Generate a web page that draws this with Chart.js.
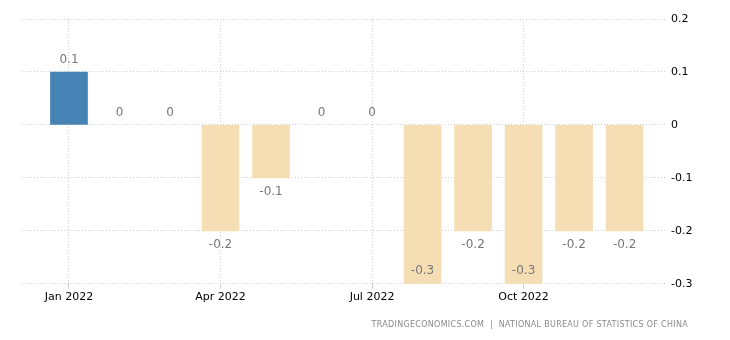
<!DOCTYPE html>
<html lang="en">
<head>
    <meta charset="UTF-8">
    <title>China inflation rate mom</title>
    <script src="https://cdn.jsdelivr.net/npm/chart.js@4.4.0/dist/chart.umd.min.js"></script>
    <style>
        body { margin: 0; background: #fff; }
        #wrap { position: relative; width: 730px; height: 340px; }
        #src {
            position: absolute; right: 42px; top: 320px; line-height: 10px;
            font: 8px "DejaVu Sans", sans-serif; letter-spacing: 0.3px; color: #8a8a8a;
            white-space: pre;
        }
    </style>
</head>
<body>
    <div id="wrap">
        <canvas id="myChart" width="730" height="340"></canvas>
        <div id="src">TRADINGECONOMICS.COM  |  NATIONAL BUREAU OF STATISTICS OF CHINA</div>
    </div>
    <script>
        var months = ['Jan 2022', 'Feb 2022', 'Mar 2022', 'Apr 2022', 'May 2022', 'Jun 2022',
            'Jul 2022', 'Aug 2022', 'Sep 2022', 'Oct 2022', 'Nov 2022', 'Dec 2022'];
        var values = [0.1, 0, 0, -0.2, -0.1, 0, 0, -0.3, -0.2, -0.3, -0.2, -0.2];
        var tickMonths = [0, 3, 6, 9];
        var yTicks = [0.2, 0.1, 0, -0.1, -0.2, -0.3];

        var points = values.map(function (v, i) { return { x: i, y: v }; });
        var colors = values.map(function (v) {
            if (v > 0) return '#4682b4';
            if (v < 0) return '#f5deb3';
            return 'rgba(0,0,0,0)';
        });

        function fmt(v) {
            var r = Math.round(v * 10) / 10;
            return r === 0 ? '0' : String(r);
        }

        // value labels above / below bars
        var labelPlugin = {
            id: 'barLabels',
            afterDatasetsDraw: function (chart) {
                var ctx = chart.ctx;
                var meta = chart.getDatasetMeta(0);
                var yScale = chart.scales.y;
                ctx.save();
                ctx.font = '12px "DejaVu Sans", sans-serif';
                ctx.fillStyle = '#777';
                ctx.textAlign = 'center';
                ctx.textBaseline = 'middle';
                meta.data.forEach(function (bar, i) {
                    var v = values[i];
                    var y;
                    if (v >= 0) {
                        y = bar.y - 12;
                    } else if (bar.y + 14 > yScale.bottom) {
                        y = bar.y - 13;
                    } else {
                        y = bar.y + 14;
                    }
                    ctx.fillText(fmt(v), bar.x, y);
                });
                ctx.restore();
            }
        };

        var ctx = document.getElementById('myChart');
        var myChart = new Chart(ctx, {
            type: 'bar',
            data: {
                datasets: [{
                    data: points,
                    backgroundColor: colors,
                    barThickness: 37,
                    borderWidth: 0
                }]
            },
            plugins: [labelPlugin],
            options: {
                responsive: false,
                animation: { duration: 0 },
                layout: { padding: { top: 19, left: 22, right: 0, bottom: 34 } },
                plugins: {
                    legend: { display: false },
                    tooltip: { enabled: false }
                },
                scales: {
                    x: {
                        type: 'linear',
                        offset: false,
                        min: -0.93,
                        max: 11.8,
                        afterBuildTicks: function (scale) {
                            scale.ticks = tickMonths.map(function (v) { return { value: v }; });
                        },
                        ticks: {
                            color: '#000',
                            font: { family: 'DejaVu Sans', size: 11 },
                            maxRotation: 0,
                            autoSkip: false,
                            padding: 2,
                            callback: function (v) { return months[v]; }
                        },
                        grid: { color: '#d0d0d0', tickLength: 5, offset: false },
                        border: { display: false, dash: [1, 2] }
                    },
                    y: {
                        position: 'right',
                        min: -0.3,
                        max: 0.2,
                        afterBuildTicks: function (scale) {
                            scale.ticks = yTicks.map(function (v) { return { value: v }; });
                        },
                        afterFit: function (scale) { scale.width = 65; },
                        ticks: {
                            color: '#000',
                            font: { family: 'DejaVu Sans', size: 11 },
                            padding: 6,
                            callback: function (v) { return fmt(v); }
                        },
                        grid: { color: '#d0d0d0', drawTicks: false },
                        border: { display: false, dash: [1, 2] }
                    }
                }
            }
        });
    </script>
</body>
</html>
